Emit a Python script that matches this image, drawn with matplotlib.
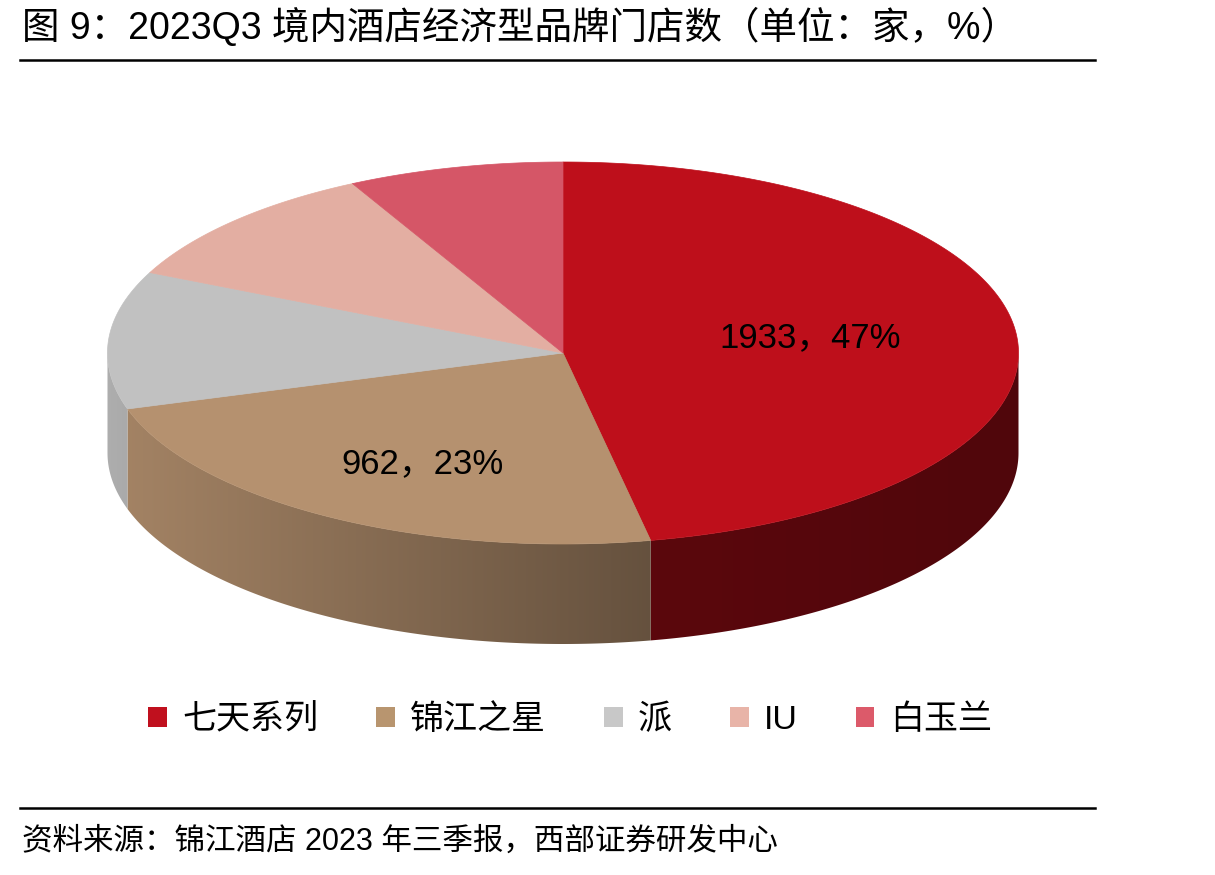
import numpy as np
import matplotlib
matplotlib.use('Agg')
import matplotlib.pyplot as plt
from matplotlib.patches import Polygon, Patch
from matplotlib.lines import Line2D

plt.rcParams['font.family'] = ['Liberation Sans', 'Noto Sans CJK SC', 'DejaVu Sans']

# ---------------- data ----------------
categories = ['七天系列', '锦江之星', '派', 'IU', '白玉兰']
stores = [1933, 962, 480, 430, 315]
show_label = [True, True, False, False, False]

title = '图 9：2023Q3 境内酒店经济型品牌门店数（单位：家，%）'
source = '资料来源：锦江酒店 2023 年三季报，西部证券研发中心'

# ---------------- style ----------------
top_colors = ['#BE0F1B', '#B5916F', '#C1C1C1', '#E3AEA2', '#D55667']
legend_colors = ['#C0101E', '#B8956F', '#C8C8C8', '#E8B4A8', '#DC5A6A']
# side shading (factor at left end, factor at right end of the visible side)
side_shade = [(0.48, 0.42), (0.90, 0.56), (0.90, 0.88), (0.8, 0.6), (0.8, 0.6)]
label_r = [0.56, 0.64, 0.6, 0.6, 0.6]
label_off = [(-7, -5), (9, 6), (0, 0), (0, 0), (0, 0)]

W, H = 1215, 875
CX, CY, RX, RY, DEPTH = 563, 353, 455.5, 191, 100

fig = plt.figure(figsize=(W / 100, H / 100), dpi=100)
ax = fig.add_axes([0, 0, 1, 1])
ax.axis('off')

vals = np.array(stores, dtype=float)
frac = vals / vals.sum()
cum = np.concatenate([[0], np.cumsum(frac)])
# parametric angles, starting at 12 o'clock, clockwise
t_start = np.deg2rad(90 - cum[:-1] * 360)
t_end = np.deg2rad(90 - cum[1:] * 360)


def pt(t, dz=0.0):
    return CX + RX * np.cos(t), CY - RY * np.sin(t) + dz


def hexrgb(c):
    c = c.lstrip('#')
    return np.array([int(c[i:i + 2], 16) for i in (0, 2, 4)]) / 255.0


# ---------------- sides (front half only), gradient-filled ----------------
for i in range(len(vals)):
    a0, a1 = t_end[i], t_start[i]          # a0 < a1
    segs = []
    for k in range(-2, 2):
        lo = max(a0, -np.pi + 2 * np.pi * k)
        hi = min(a1, 2 * np.pi * k)
        if hi > lo:
            segs.append((lo, hi))
    base = hexrgb(top_colors[i])
    for lo, hi in segs:
        ts = np.linspace(hi, lo, 300)
        xt, yt = pt(ts)
        xb, yb = pt(ts[::-1], DEPTH)
        verts = np.column_stack([np.concatenate([xt, xb]), np.concatenate([yt, yb])])
        poly = Polygon(verts, closed=True, facecolor='none', edgecolor='none')
        ax.add_patch(poly)
        xmin, xmax = verts[:, 0].min(), verts[:, 0].max()
        u = np.linspace(0, 1, 256)
        f = side_shade[i][0] + (side_shade[i][1] - side_shade[i][0]) * u
        grad = np.clip(base[None, :] * f[:, None], 0, 1)[None, :, :]
        im = ax.imshow(grad, extent=(xmin - 1, xmax + 1, verts[:, 1].max() + 1, verts[:, 1].min() - 1),
                       aspect='auto', interpolation='bilinear', zorder=1)
        im.set_clip_path(poly)

# ---------------- top faces ----------------
for i in range(len(vals)):
    ts = np.linspace(t_start[i], t_end[i], 300)
    xs, ys = pt(ts)
    verts = np.vstack([[CX, CY], np.column_stack([xs, ys])])
    ax.add_patch(Polygon(verts, closed=True, facecolor=top_colors[i],
                         edgecolor=top_colors[i], linewidth=0.5, zorder=2))

# ---------------- data labels ----------------
for i in range(len(vals)):
    if not show_label[i]:
        continue
    tm = 0.5 * (t_start[i] + t_end[i])
    x = CX + label_r[i] * RX * np.cos(tm) + label_off[i][0]
    y = CY - label_r[i] * RY * np.sin(tm) + label_off[i][1]
    ax.text(x, y, f'{stores[i]}，{frac[i] * 100:.0f}%', ha='center', va='center',
            fontsize=25, color='black', zorder=3)

ax.set_xlim(0, W)
ax.set_ylim(H, 0)

# ---------------- title / rules / source ----------------
fig.text(22 / W, 1 - 27 / H, title, ha='left', va='center', fontsize=27, color='black')
fig.add_artist(Line2D([20 / W, 1095 / W], [1 - 60 / H, 1 - 60 / H], color='black', lw=1.8))
fig.add_artist(Line2D([20 / W, 1095 / W], [1 - 808 / H, 1 - 808 / H], color='black', lw=1.8))
fig.text(22 / W, 1 - 842 / H, source, ha='left', va='center', fontsize=22, color='black')

# ---------------- legend ----------------
handles = [Patch(facecolor=c, edgecolor='none') for c in legend_colors]
leg = fig.legend(handles, categories, loc='center', bbox_to_anchor=(570 / W, 1 - 720 / H),
                 ncol=5, frameon=False, fontsize=24.5, handlelength=0.55, handleheight=0.55,
                 handletextpad=0.45, columnspacing=1.7, borderaxespad=0)

fig.savefig('out.png', dpi=100)
